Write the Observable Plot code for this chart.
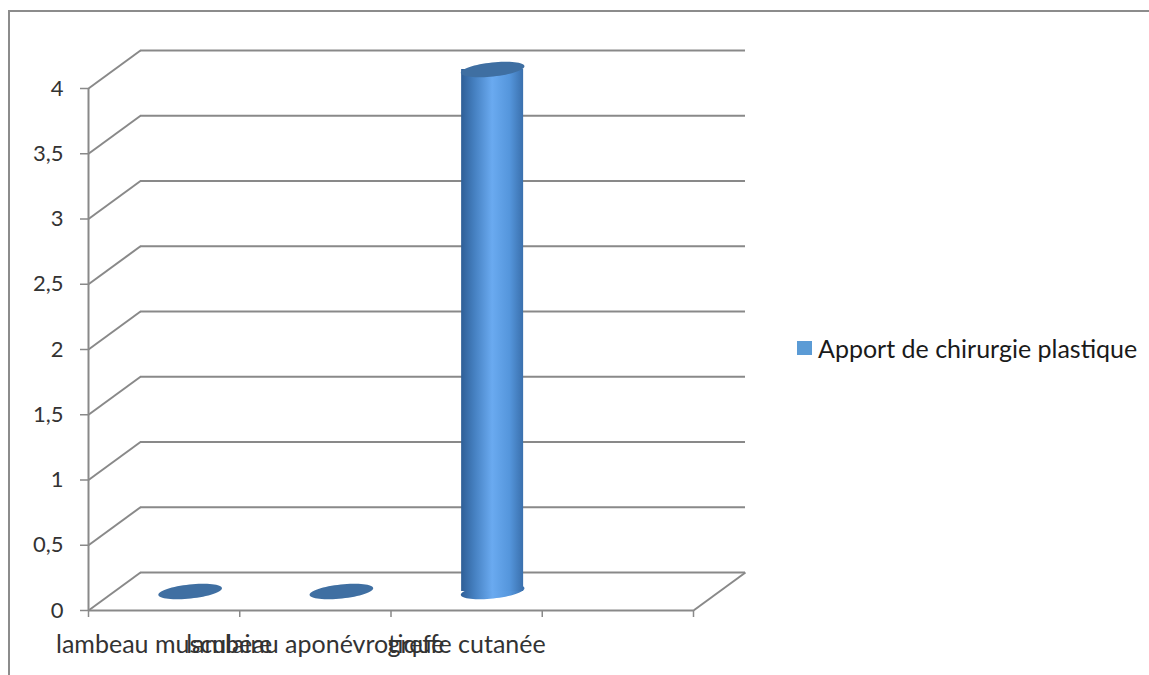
<!DOCTYPE html>
<html>
<head>
<meta charset="utf-8">
<script src="https://cdn.jsdelivr.net/npm/d3@7"></script>
<script src="https://cdn.jsdelivr.net/npm/@observablehq/plot@0.6"></script>
<style>
  html, body { margin: 0; padding: 0; background: #fff; overflow: hidden; }
  #wrap { position: relative; width: 1149px; height: 675px; }
  #frame { position: absolute; left: 8px; top: 10px; width: 1300px; height: 800px;
           border-top: 2px solid #8c8c8c; border-left: 2px solid #8c8c8c; box-sizing: border-box; }
  #legend { position: absolute; left: 797px; top: 333px; height: 30px; font-family: Lato, "Open Sans", sans-serif;
            font-size: 25px; color: #1a1a1a; display: flex; align-items: center; white-space: nowrap; }
  #legend .sw { width: 15px; height: 14px; background: #5b9bd5; margin-right: 6px; }
  svg { position: absolute; left: 0; top: 0; }
</style>
</head>
<body>
<div id="wrap"><div id="frame"></div><div id="legend"></div></div>
<script>
// ---- data ----
const categories = ["lambeau musculaire", "lambeau aponévrotique", "greffe cutanée", ""];
const values = [0, 0, 4, null];
const seriesName = "Apport de chirurgie plastique";
const yTicks = [0, 0.5, 1, 1.5, 2, 2.5, 3, 3.5, 4];

// ---- layout (pixels) ----
const W = 1149, H = 675;
const mL = 88, mR = W - 693, mT = 88, mB = H - 610;
const depthPx = [52, -38];           // back wall offset
const midPx = [26, -19];             // cylinder sits mid-depth
const radiusPx = 31;

const nCat = categories.length;
const xPerPx = nCat / (W - mL - mR);
const yPerPx = 4 / (H - mT - mB);
const dXd = depthPx[0] * xPerPx, dYd = -depthPx[1] * yPerPx;

const bars = categories.map((c, i) => ({c, i, v: values[i], xc: i + 0.5}))
  .filter(d => d.v != null);

const gray = "#898989";
const fmt = d => String(d).replace(".", ",");

const ellipse = (rx, ry, deg) => ({
  draw(ctx) {
    const a = deg * Math.PI / 180, n = 64;
    for (let k = 0; k <= n; k++) {
      const t = 2 * Math.PI * k / n;
      const px = rx * Math.cos(t), py = ry * Math.sin(t);
      const X = px * Math.cos(a) - py * Math.sin(a);
      const Y = px * Math.sin(a) + py * Math.cos(a);
      k ? ctx.lineTo(X, Y) : ctx.moveTo(X, Y);
    }
    ctx.closePath();
  }
});
const ell = ellipse(radiusPx + 1, 7, -6);

const chart = Plot.plot({
  width: W, height: H,
  marginLeft: mL, marginRight: mR, marginTop: mT, marginBottom: mB,
  style: {fontFamily: 'Lato, "Open Sans", sans-serif', color: "#333333", background: "transparent", overflow: "visible"},
  x: {domain: [0, nCat], axis: null},
  y: {domain: [0, 4], axis: null},
  marks: [
    // back wall gridlines
    Plot.ruleY(yTicks, {x1: 0, x2: nCat, y: d => d, dx: depthPx[0], dy: depthPx[1], stroke: gray, strokeWidth: 2}),
    // side wall diagonals
    Plot.link(yTicks, {x1: 0, y1: d => d, x2: dXd, y2: d => d + dYd, stroke: gray, strokeWidth: 2}),
    // floor right edge
    Plot.link([0], {x1: nCat, y1: 0, x2: nCat + dXd, y2: dYd, stroke: gray, strokeWidth: 2}),
    // floor front edge
    Plot.ruleY([0], {x1: 0, x2: nCat, stroke: gray, strokeWidth: 2}),
    // front y axis line
    Plot.ruleX([0], {y1: 0, y2: 4, stroke: gray, strokeWidth: 2}),
    // cylinders: bottom cap, body, top cap
    Plot.dot(bars.filter(d => d.v > 0), {x: "xc", y: 0, dx: midPx[0], dy: midPx[1], symbol: ell, fill: "url(#cylGrad)", stroke: "none"}),
    Plot.rect(bars.filter(d => d.v > 0), {x1: d => d.xc - radiusPx * xPerPx, x2: d => d.xc + radiusPx * xPerPx, y1: 0, y2: "v", dx: midPx[0], dy: midPx[1], fill: "url(#cylGrad)"}),
    Plot.dot(bars, {x: "xc", y: "v", dx: midPx[0], dy: midPx[1], symbol: ell, fill: "#3f6fa2", stroke: "none"}),
    // axes
    Plot.axisY(yTicks, {tickSize: 8, tickPadding: 17, tickFormat: fmt, fontSize: 22, stroke: gray, strokeWidth: 1.5, label: null}),
    Plot.axisX(d3.range(nCat + 1), {tickSize: 7, tickFormat: () => "", stroke: gray, strokeWidth: 1.5, label: null}),
    Plot.axisX(categories.map((c, i) => i + 0.5), {tickSize: 0, tickPadding: 25, tickFormat: d => categories[Math.floor(d)], fontSize: 25, label: null})
  ]
});

// gradient for the cylinder body
const svg = d3.select(chart);
const defs = svg.insert("defs", ":first-child");
const g = defs.append("linearGradient").attr("id", "cylGrad").attr("x1", 0).attr("x2", 1).attr("y1", 0).attr("y2", 0);
[["0%", "#2f5f97"], ["22%", "#4681c2"], ["50%", "#6aaaf0"], ["78%", "#5596dc"], ["100%", "#3a70ad"]]
  .forEach(([o, c]) => g.append("stop").attr("offset", o).attr("stop-color", c));

document.getElementById("wrap").appendChild(chart);
document.getElementById("legend").innerHTML = `<span class="sw"></span><span>${seriesName}</span>`;
</script>
</body>
</html>
